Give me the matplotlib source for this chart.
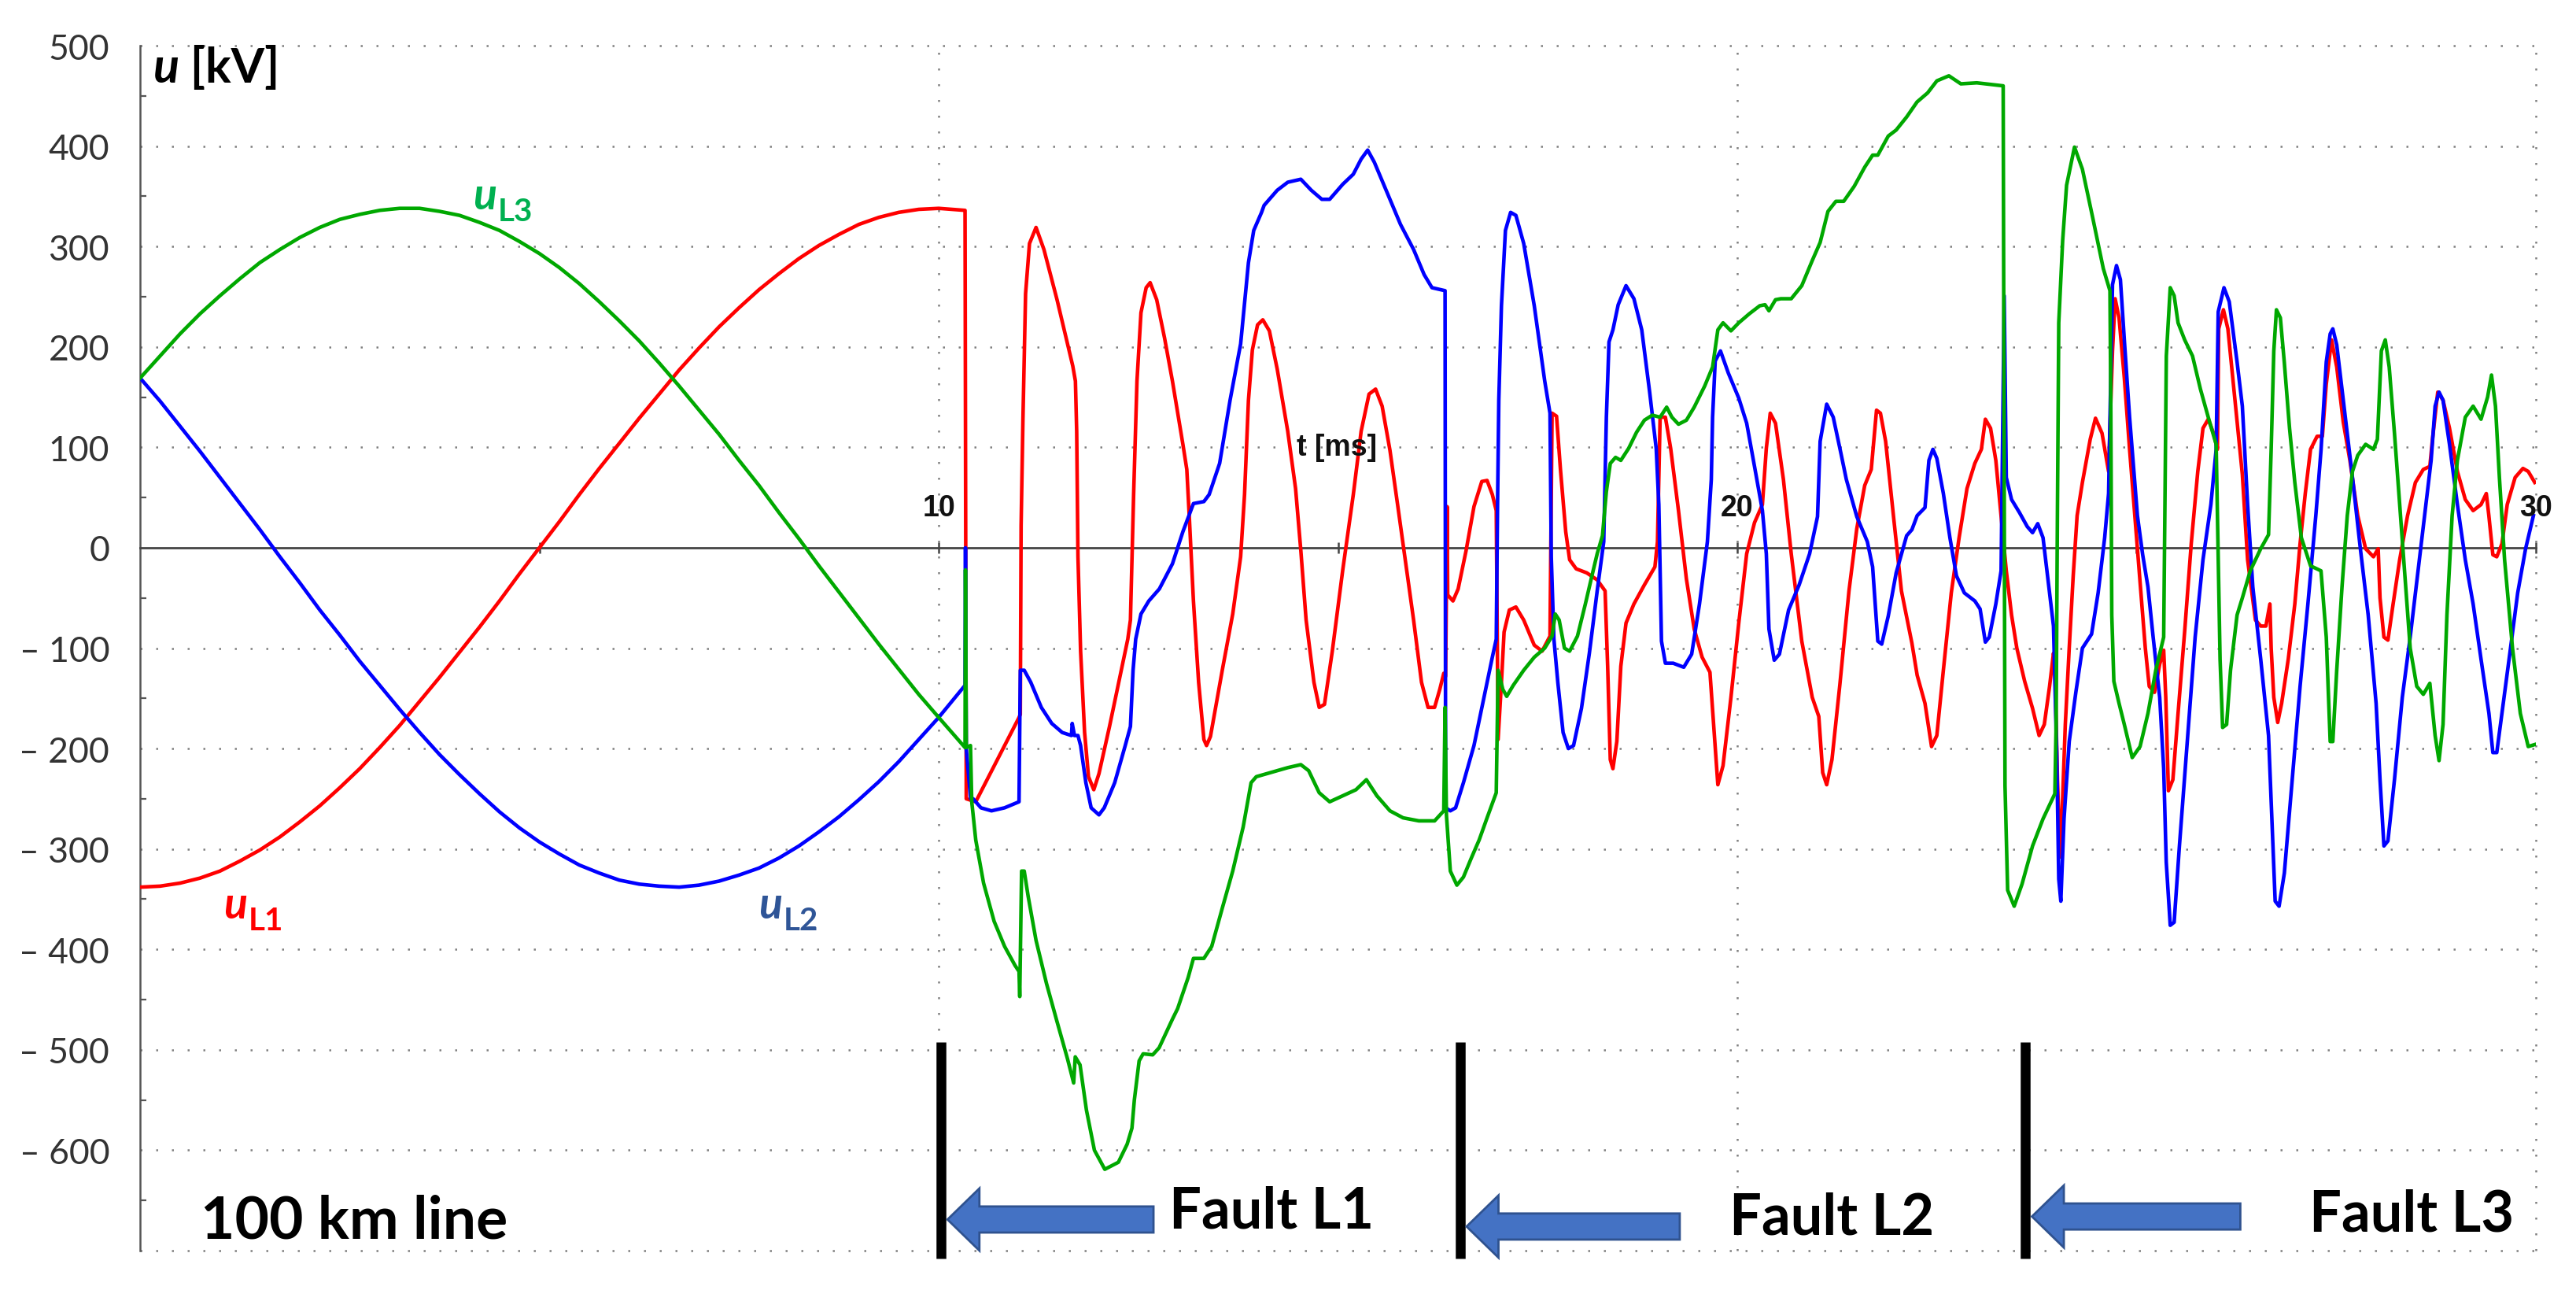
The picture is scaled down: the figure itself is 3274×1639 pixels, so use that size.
import matplotlib
matplotlib.use("Agg")
import matplotlib.pyplot as plt
from matplotlib.patches import FancyArrow

# ---------------- data (t in ms, u in kV) ----------------
t_pre = [0.0, 0.25, 0.5, 0.75, 1.0, 1.25, 1.5, 1.75, 2.0, 2.25, 2.5, 2.75,
         3.0, 3.25, 3.5, 3.75, 4.0, 4.25, 4.5, 4.75, 5.0, 5.25, 5.5, 5.75,
         6.0, 6.25, 6.5, 6.75, 7.0, 7.25, 7.5, 7.75, 8.0, 8.25, 8.5, 8.75,
         9.0, 9.25, 9.5, 9.75, 10.0, 10.33]
uL1_pre = [-338, -337, -334, -329, -322, -312, -301, -288, -273, -257, -239, -220,
           -199, -177, -153, -129, -104, -79, -53, -26, 0, 26, 53, 79,
           104, 129, 153, 177, 199, 220, 239, 257, 273, 288, 301, 312,
           322, 329, 334, 337, 338, 336]
uL2_pre = [169, 146, 121, 96, 70, 44, 18, -9, -35, -62, -87, -113,
           -137, -161, -184, -206, -226, -245, -263, -279, -293, -305, -316, -324,
           -331, -335, -337, -338, -336, -332, -326, -319, -309, -297, -283, -268,
           -251, -233, -213, -191, -169, -137]
uL3_pre = [169, 191, 213, 233, 251, 268, 284, 297, 309, 319, 327, 332,
           336, 338, 338, 335, 331, 324, 316, 305, 293, 279, 263, 245,
           226, 206, 184, 161, 137, 113, 87, 62, 35, 9, -18, -44,
           -70, -96, -121, -146, -169, -199]

uL1_post = [
    (10.345, -250), (10.464, -253), (11.006, -169), (11.022, -166), (11.032, 22),
    (11.055, 128), (11.088, 253), (11.137, 303), (11.219, 319), (11.318, 297),
    (11.482, 247), (11.613, 203), (11.679, 181), (11.712, 166), (11.728, 116),
    (11.744, -9), (11.777, -103), (11.827, -184), (11.876, -228), (11.942, -241),
    (12.007, -225), (12.139, -178), (12.270, -128), (12.368, -91), (12.401, -72),
    (12.441, 53), (12.483, 166), (12.533, 234), (12.598, 259), (12.648, 264),
    (12.730, 247), (12.828, 209), (12.927, 166), (13.058, 103), (13.107, 78),
    (13.140, 28), (13.190, -53), (13.255, -134), (13.321, -191), (13.354, -197),
    (13.403, -188), (13.551, -122), (13.682, -66), (13.781, -9), (13.830, 53),
    (13.879, 147), (13.928, 197), (13.993, 222), (14.059, 227), (14.141, 216),
    (14.239, 178), (14.371, 116), (14.469, 59), (14.535, -3), (14.601, -72),
    (14.699, -134), (14.765, -159), (14.831, -156), (14.929, -103), (15.060, -22),
    (15.192, 53), (15.290, 116), (15.389, 153), (15.471, 158), (15.553, 141),
    (15.651, 97), (15.750, 41), (15.849, -16), (15.947, -72), (16.046, -134),
    (16.128, -159), (16.210, -159), (16.275, -141), (16.325, -125), (16.348, -128),
    (16.367, 41), (16.374, -47), (16.440, -53), (16.505, -41), (16.604, -3),
    (16.703, 41), (16.801, 66), (16.867, 67), (16.933, 53), (16.982, 37),
    (17.005, -191), (17.047, -134), (17.080, -84), (17.146, -62), (17.228, -59),
    (17.326, -72), (17.458, -97), (17.556, -103), (17.655, -88), (17.681, 134),
    (17.737, 131), (17.786, 78), (17.852, 16), (17.901, -12), (17.983, -21),
    (18.115, -25), (18.246, -32), (18.345, -43), (18.377, -118), (18.410, -211),
    (18.443, -220), (18.492, -193), (18.542, -118), (18.607, -75), (18.706, -56),
    (18.837, -37), (18.969, -19), (19.001, 6), (19.034, 130), (19.100, 130),
    (19.166, 99), (19.264, 37), (19.363, -31), (19.461, -81), (19.560, -109),
    (19.658, -124), (19.707, -180), (19.757, -236), (19.822, -217), (19.921, -149),
    (20.019, -75), (20.118, -6), (20.216, 25), (20.315, 43), (20.364, 99),
    (20.413, 134), (20.479, 124), (20.578, 68), (20.676, -6), (20.808, -93),
    (20.939, -149), (21.021, -168), (21.070, -224), (21.120, -236), (21.186, -211),
    (21.284, -137), (21.399, -43), (21.497, 19), (21.596, 62), (21.678, 78),
    (21.744, 137), (21.793, 134), (21.858, 106), (21.957, 31), (22.056, -43),
    (22.187, -95), (22.253, -127), (22.351, -155), (22.433, -198), (22.499, -187),
    (22.581, -122), (22.680, -45), (22.778, 10), (22.877, 59), (22.975, 84),
    (23.057, 98), (23.107, 128), (23.172, 119), (23.238, 87), (23.304, 32),
    (23.369, -23), (23.435, -67), (23.501, -100), (23.599, -133), (23.698, -160),
    (23.780, -187), (23.845, -176), (23.911, -138), (23.960, -105), (23.977, -116),
    (24.010, -231), (24.043, -308), (24.075, -248), (24.108, -176), (24.157, -100),
    (24.207, -28), (24.256, 32), (24.322, 65), (24.420, 108), (24.486, 129),
    (24.568, 114), (24.650, 76), (24.699, 196), (24.732, 248), (24.781, 229),
    (24.847, 169), (24.913, 98), (24.978, 32), (25.044, -34), (25.110, -100),
    (25.159, -138), (25.225, -144), (25.290, -116), (25.340, -102), (25.366, -149),
    (25.399, -242), (25.455, -231), (25.520, -165), (25.603, -83), (25.685, 4),
    (25.767, 76), (25.832, 119), (25.898, 128), (25.964, 114), (26.013, 98),
    (26.029, 218), (26.088, 237), (26.144, 218), (26.226, 152), (26.325, 73),
    (26.391, -12), (26.489, -72), (26.555, -78), (26.620, -78), (26.670, -56),
    (26.686, -100), (26.719, -149), (26.768, -174), (26.817, -155), (26.900, -111),
    (26.982, -56), (27.048, 4), (27.113, 54), (27.179, 98), (27.261, 111),
    (27.327, 111), (27.376, 163), (27.442, 207), (27.507, 180), (27.589, 125),
    (27.672, 87), (27.770, 32), (27.869, -1), (27.967, -9), (28.026, -1),
    (28.049, -50), (28.098, -89), (28.148, -92), (28.213, -56), (28.295, -12),
    (28.394, 32), (28.492, 65), (28.591, 78), (28.673, 81), (28.706, 108),
    (28.772, 155), (28.838, 147), (28.919, 119), (29.018, 76), (29.117, 48),
    (29.215, 37), (29.314, 43), (29.380, 54), (29.412, 32), (29.462, -7),
    (29.511, -9), (29.576, 4), (29.642, 43), (29.741, 70), (29.839, 79),
    (29.905, 76), (29.987, 65),
]

uL2_post = [
    (10.335, 0), (10.345, -200), (10.400, -250), (10.431, -250), (10.529, -259),
    (10.661, -262), (10.825, -259), (11.006, -253), (11.022, -122), (11.071, -122),
    (11.153, -134), (11.285, -159), (11.416, -175), (11.547, -184), (11.662, -187),
    (11.672, -175), (11.700, -187), (11.744, -187), (11.777, -197), (11.843, -234),
    (11.909, -259), (12.007, -266), (12.073, -259), (12.204, -234), (12.336, -197),
    (12.401, -178), (12.434, -122), (12.467, -91), (12.533, -66), (12.631, -53),
    (12.763, -41), (12.927, -16), (13.058, 16), (13.190, 44), (13.321, 46),
    (13.387, 53), (13.518, 84), (13.649, 147), (13.781, 203), (13.879, 284),
    (13.945, 316), (14.043, 334), (14.075, 341), (14.239, 356), (14.371, 364),
    (14.535, 367), (14.666, 356), (14.798, 347), (14.896, 347), (15.060, 362),
    (15.192, 372), (15.290, 387), (15.372, 396), (15.455, 384), (15.619, 353),
    (15.783, 322), (15.947, 297), (16.079, 272), (16.177, 259), (16.341, 256),
    (16.348, -259), (16.407, -262), (16.473, -259), (16.571, -234), (16.703, -197),
    (16.834, -147), (16.933, -109), (16.982, -91), (16.998, 41), (17.014, 147),
    (17.047, 241), (17.097, 316), (17.162, 334), (17.228, 331), (17.326, 303),
    (17.458, 241), (17.589, 166), (17.655, 134), (17.671, -9), (17.704, -91),
    (17.753, -134), (17.819, -184), (17.885, -200), (17.950, -197), (18.049, -160),
    (18.148, -105), (18.246, -43), (18.328, 6), (18.361, 130), (18.394, 205),
    (18.443, 217), (18.509, 242), (18.607, 261), (18.706, 248), (18.804, 217),
    (18.903, 155), (18.985, 99), (19.018, 43), (19.051, -93), (19.100, -115),
    (19.198, -115), (19.330, -119), (19.429, -106), (19.527, -56), (19.626, 6),
    (19.675, 68), (19.691, 130), (19.724, 186), (19.790, 196), (19.888, 174),
    (20.019, 149), (20.118, 124), (20.216, 81), (20.315, 37), (20.364, -6),
    (20.397, -81), (20.463, -112), (20.528, -106), (20.643, -62), (20.775, -37),
    (20.906, -6), (21.005, 31), (21.038, 106), (21.120, 143), (21.202, 130),
    (21.301, 93), (21.366, 68), (21.497, 31), (21.629, 6), (21.695, -19),
    (21.760, -93), (21.809, -96), (21.891, -68), (21.990, -25), (22.121, 12),
    (22.187, 18), (22.253, 32), (22.351, 40), (22.400, 87), (22.450, 98),
    (22.499, 89), (22.581, 54), (22.663, 10), (22.745, -28), (22.844, -45),
    (22.975, -53), (23.041, -61), (23.107, -94), (23.156, -89), (23.238, -56),
    (23.304, -23), (23.343, 251), (23.369, 70), (23.435, 48), (23.534, 35),
    (23.632, 21), (23.698, 15), (23.763, 24), (23.829, 10), (23.895, -34),
    (23.960, -78), (24.000, -204), (24.026, -330), (24.052, -352), (24.092, -270),
    (24.157, -193), (24.240, -144), (24.322, -100), (24.437, -86), (24.519, -45),
    (24.601, 10), (24.650, 54), (24.699, 262), (24.749, 281), (24.798, 267),
    (24.847, 207), (24.913, 130), (25.011, 32), (25.077, -7), (25.143, -39),
    (25.208, -89), (25.290, -149), (25.340, -220), (25.372, -313), (25.422, -376),
    (25.471, -373), (25.537, -297), (25.635, -193), (25.734, -89), (25.832, -12),
    (25.931, 43), (25.997, 98), (26.023, 235), (26.095, 259), (26.161, 245),
    (26.259, 185), (26.325, 141), (26.391, 43), (26.456, -39), (26.555, -111),
    (26.653, -187), (26.703, -286), (26.736, -352), (26.785, -357), (26.851, -324),
    (26.949, -231), (27.048, -138), (27.146, -56), (27.245, 32), (27.311, 98),
    (27.376, 185), (27.425, 213), (27.458, 218), (27.507, 202), (27.606, 136),
    (27.704, 70), (27.803, -1), (27.901, -67), (28.000, -155), (28.049, -231),
    (28.098, -297), (28.148, -292), (28.230, -231), (28.328, -149), (28.427, -89),
    (28.525, -23), (28.624, 43), (28.689, 87), (28.739, 141), (28.788, 155),
    (28.838, 147), (28.919, 103), (29.018, 43), (29.117, -12), (29.215, -56),
    (29.314, -111), (29.413, -165), (29.462, -204), (29.511, -204), (29.576, -165),
    (29.675, -105), (29.773, -45), (29.872, -1), (29.970, 32),
]

uL3_post = [
    (10.335, -22), (10.345, -199), (10.398, -197), (10.414, -253), (10.464, -291),
    (10.562, -334), (10.694, -372), (10.825, -397), (10.956, -416), (11.006, -422),
    (11.015, -447), (11.038, -322), (11.071, -322), (11.120, -347), (11.219, -391),
    (11.350, -434), (11.482, -472), (11.613, -509), (11.690, -533), (11.710, -507),
    (11.770, -515), (11.850, -560), (11.950, -600), (12.080, -619), (12.250, -612),
    (12.360, -594), (12.420, -578), (12.450, -550), (12.510, -511), (12.560, -504),
    (12.680, -505), (12.760, -498), (12.930, -469), (12.992, -459), (13.124, -428),
    (13.190, -409), (13.321, -409), (13.419, -397), (13.551, -359), (13.682, -322),
    (13.813, -278), (13.912, -234), (13.977, -228), (14.108, -225), (14.239, -222),
    (14.371, -219), (14.535, -216), (14.633, -222), (14.765, -244), (14.896, -253),
    (15.060, -247), (15.225, -241), (15.356, -231), (15.487, -247), (15.651, -262),
    (15.816, -269), (16.013, -272), (16.210, -272), (16.325, -262), (16.341, -159),
    (16.358, -266), (16.407, -322), (16.489, -336), (16.571, -328), (16.670, -309),
    (16.768, -291), (16.867, -269), (16.982, -244), (17.005, -122), (17.064, -141),
    (17.113, -148), (17.195, -137), (17.326, -122), (17.458, -109), (17.589, -100),
    (17.681, -88), (17.721, -66), (17.770, -72), (17.836, -100), (17.901, -103),
    (17.999, -88), (18.098, -56), (18.180, -28), (18.246, -6), (18.312, 12),
    (18.361, 56), (18.410, 84), (18.476, 90), (18.542, 87), (18.640, 99),
    (18.739, 115), (18.837, 127), (18.936, 132), (19.034, 130), (19.116, 140),
    (19.182, 130), (19.264, 123), (19.363, 127), (19.461, 140), (19.592, 161),
    (19.691, 180), (19.757, 217), (19.822, 224), (19.921, 216), (20.019, 224),
    (20.151, 233), (20.282, 241), (20.348, 242), (20.397, 236), (20.479, 247),
    (20.545, 248), (20.676, 248), (20.808, 261), (20.939, 286), (21.038, 304),
    (21.136, 335), (21.235, 345), (21.333, 345), (21.465, 360), (21.596, 379),
    (21.695, 391), (21.760, 391), (21.891, 410), (21.990, 416), (22.121, 429),
    (22.252, 444), (22.384, 453), (22.500, 465), (22.650, 470), (22.800, 462),
    (23.000, 463), (23.330, 460), (23.353, -237), (23.386, -341), (23.468, -357),
    (23.566, -335), (23.698, -297), (23.829, -270), (23.977, -245), (23.993, -176),
    (24.010, 43), (24.026, 224), (24.075, 306), (24.124, 361), (24.223, 399),
    (24.322, 377), (24.453, 328), (24.584, 278), (24.667, 256), (24.677, 152),
    (24.690, -67), (24.716, -133), (24.781, -155), (24.847, -176), (24.946, -209),
    (25.044, -198), (25.143, -165), (25.241, -122), (25.340, -89), (25.356, 43),
    (25.373, 191), (25.422, 259), (25.471, 251), (25.520, 224), (25.603, 207),
    (25.701, 191), (25.800, 158), (25.898, 130), (25.997, 103), (26.023, -12),
    (26.046, -111), (26.078, -179), (26.128, -176), (26.177, -122), (26.259, -67),
    (26.325, -50), (26.424, -23), (26.555, -1), (26.653, 13), (26.686, 98),
    (26.719, 196), (26.752, 237), (26.801, 229), (26.850, 185), (26.916, 119),
    (26.982, 65), (27.064, 10), (27.179, -18), (27.310, -23), (27.376, -89),
    (27.425, -193), (27.458, -193), (27.507, -122), (27.573, -39), (27.639, 32),
    (27.704, 76), (27.770, 92), (27.869, 103), (27.967, 98), (28.016, 108),
    (28.066, 196), (28.115, 207), (28.164, 180), (28.230, 114), (28.295, 43),
    (28.361, -28), (28.427, -100), (28.509, -138), (28.591, -146), (28.673, -135),
    (28.739, -187), (28.788, -212), (28.838, -176), (28.887, -67), (28.952, 32),
    (29.018, 87), (29.117, 130), (29.215, 141), (29.314, 128), (29.396, 150),
    (29.445, 172), (29.495, 141), (29.544, 70), (29.609, -12), (29.708, -100),
    (29.806, -165), (29.905, -198), (29.987, -196),
]

y_ticks = [-600, -500, -400, -300, -200, -100, 0, 100, 200, 300, 400, 500]
y_tick_labels = ["\u2013 600", "\u2013 500", "\u2013 400", "\u2013 300", "\u2013 200",
                 "\u2013 100", "0", "100", "200", "300", "400", "500"]
x_labels = [10, 20, 30]
fault_times = [10.03, 16.53, 23.61]          # black marker lines
fault_names = ["Fault L1", "Fault L2", "Fault L3"]
arrow_tails = [12.69, 19.28, 26.30]
arrow_y = [-669, -676, -666]
fault_text_x = [12.89, 19.90, 27.16]
fault_text_y = [-661, -667, -664]

# ---------------- figure ----------------
FONT = "Lato"
RED, BLUE, GREEN = "#FF0000", "#0000FF", "#00A800"

fig = plt.figure(figsize=(32.74, 16.40), dpi=100)
ax = fig.add_axes([0.0544, 0.0305, 0.9300, 0.9335])
ax.set_xlim(0, 30)
ax.set_ylim(-700, 500)

for s in ("top", "right"):
    ax.spines[s].set_visible(False)
ax.spines["left"].set_color("#555555")
ax.spines["left"].set_linewidth(1.8)
ax.spines["bottom"].set_position(("data", 0))
ax.spines["bottom"].set_color("#444444")
ax.spines["bottom"].set_linewidth(2.0)

# grid
grid_y = list(range(-700, 501, 100))
for gy in grid_y:
    if gy != 0:
        ax.plot([0, 30], [gy, gy], ls=(0, (1, 7)), color="#808080", lw=1.8,
                zorder=1, clip_on=False)
for gx in x_labels:
    ax.plot([gx, gx], [-700, 500], ls=(0, (1, 7)), color="#808080", lw=1.8,
            zorder=1, clip_on=False)

# ticks
ax.set_yticks(y_ticks)
ax.set_yticklabels(y_tick_labels, fontfamily=FONT, fontsize=32, color="#333333")
ax.set_yticks([v + 50 for v in range(-700, 500, 100)], minor=True)
ax.tick_params(axis="y", which="major", length=0, pad=28)
ax.tick_params(axis="y", which="minor", length=6, width=1.6, direction="in",
               color="#555555")
ax.set_xticks([5, 10, 15, 20, 25, 30])
ax.set_xticklabels([])
ax.tick_params(axis="x", which="major", length=10, width=1.8, direction="inout",
               color="#444444")

# waveforms
def full_series(pre, post):
    ts = list(t_pre) + [p[0] for p in post]
    vs = list(pre) + [p[1] for p in post]
    return ts, vs

for pre, post, col in ((uL1_pre, uL1_post, RED), (uL2_pre, uL2_post, BLUE),
                       (uL3_pre, uL3_post, GREEN)):
    ts, vs = full_series(pre, post)
    ax.plot(ts, vs, color=col, lw=3.3, zorder=3, solid_joinstyle="round")

# x labels on the zero line
for xv in x_labels:
    ax.text(xv, 40, str(xv), ha="center", va="center", fontsize=27,
            fontweight="bold", fontfamily="Liberation Sans", color="#111111", zorder=5)
ax.text(14.48, 100, "t [ms]", ha="left", va="center", fontsize=27,
        fontweight="bold", fontfamily="Liberation Sans", color="#111111", zorder=5)

# axis title u [kV]
tu = ax.text(0.16, 478, "u", ha="left", va="center", fontsize=44,
             fontweight="bold", fontstyle="italic", fontfamily=FONT, color="black")
ax.annotate(" [kV]", xy=(1, 0), xycoords=tu, ha="left", va="bottom",
            fontsize=44, fontweight="bold", fontfamily=FONT, color="black")

# phase labels
def phase_label(x, y, sub, col):
    t1 = ax.text(x, y, "u", ha="left", va="center", fontsize=40,
                 fontweight="bold", fontstyle="italic", fontfamily=FONT, color=col,
                 zorder=6)
    ax.annotate(sub, xy=(1, 0), xycoords=t1, xytext=(1, -9),
                textcoords="offset points", ha="left", va="bottom",
                fontsize=29, fontweight="bold", fontfamily=FONT, color=col, zorder=6)

phase_label(1.05, -356, "L1", "#FF0000")
phase_label(7.75, -356, "L2", "#2F5597")
phase_label(4.17, 350, "L3", "#00B050")

# annotations
ax.text(0.76, -670, "100 km line", ha="left", va="center", fontsize=54,
        fontweight="bold", fontfamily=FONT, color="black")
for ft, name, tail, ay, tx, ty in zip(fault_times, fault_names, arrow_tails,
                                      arrow_y, fault_text_x, fault_text_y):
    ax.plot([ft, ft], [-492, -708], color="black", lw=9, zorder=4,
            clip_on=False, solid_capstyle="butt")
    arr = FancyArrow(tail, ay, (ft + 0.08) - tail, 0, width=26, head_width=62,
                     head_length=0.40, length_includes_head=True,
                     facecolor="#4472C4", edgecolor="#2F528F", lw=2, zorder=5,
                     clip_on=False)
    ax.add_patch(arr)
    ax.text(tx, ty, name, ha="left", va="center", fontsize=52,
            fontweight="bold", fontfamily=FONT, color="black")

fig.savefig("out.png", dpi=100)
